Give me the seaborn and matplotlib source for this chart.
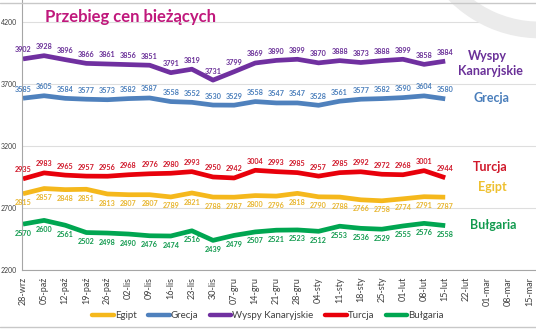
import matplotlib
matplotlib.use("Agg")
import matplotlib.pyplot as plt
import seaborn as sns
import pandas as pd
from matplotlib.lines import Line2D
from matplotlib.patches import Arc

dates = ["28-wrz", "05-paź", "12-paź", "19-paź", "26-paź", "02-lis", "09-lis", "16-lis",
         "23-lis", "30-lis", "07-gru", "14-gru", "21-gru", "28-gru", "04-sty", "11-sty",
         "18-sty", "25-sty", "01-lut", "08-lut", "15-lut", "22-lut", "01-mar", "08-mar", "15-mar"]

egipt = [2815, 2857, 2848, 2851, 2813, 2807, 2807, 2789, 2821, 2788, 2787, 2800, 2796,
         2818, 2790, 2788, 2766, 2758, 2774, 2791, 2787]
grecja = [3585, 3605, 3584, 3577, 3573, 3582, 3587, 3558, 3552, 3530, 3529, 3558, 3547,
          3547, 3528, 3561, 3577, 3582, 3590, 3604, 3580]
wyspy = [3902, 3928, 3896, 3866, 3861, 3856, 3851, 3791, 3819, 3731, 3799, 3869, 3890,
         3899, 3870, 3888, 3873, 3888, 3899, 3858, 3884]
turcja = [2935, 2983, 2965, 2957, 2956, 2968, 2976, 2980, 2993, 2950, 2942, 3004, 2993,
          2985, 2957, 2985, 2992, 2972, 2968, 3001, 2944]
bulgaria = [2570, 2600, 2561, 2502, 2498, 2490, 2476, 2474, 2516, 2439, 2479, 2507, 2521,
            2523, 2512, 2553, 2536, 2529, 2555, 2576, 2558]

series_names = ["Egipt", "Grecja", "Wyspy Kanaryjskie", "Turcja", "Bułgaria"]
series_values = [egipt, grecja, wyspy, turcja, bulgaria]
y_ticks = [2200, 2700, 3200, 3700, 4200]

colors = {"Egipt": "#F5B81C", "Grecja": "#4F81BD", "Wyspy Kanaryjskie": "#7030A0",
          "Turcja": "#E8000B", "Bułgaria": "#00A651"}
label_colors = {"Egipt": "#E8B630", "Grecja": "#4A7EBB", "Wyspy Kanaryjskie": "#6A3098",
                "Turcja": "#D0182A", "Bułgaria": "#119A4E"}
label_side = {"Egipt": -1, "Grecja": 1, "Wyspy Kanaryjskie": 1, "Turcja": 1, "Bułgaria": -1}

rows = []
for name, vals in zip(series_names, series_values):
    for i, v in enumerate(vals):
        rows.append({"idx": i, "value": v, "series": name})
df = pd.DataFrame(rows)

sns.set_theme(style="white")
plt.rcParams['font.family'] = ['Lato', 'DejaVu Sans']

W, H = 536, 332
fig = plt.figure(figsize=(W / 100, H / 100), dpi=100)
ax = fig.add_axes([22 / W, 62 / H, 514 / W, 270 / H])

sns.lineplot(data=df, x="idx", y="value", hue="series", hue_order=series_names,
             palette=colors, linewidth=3.4, ax=ax, legend=False, solid_capstyle="butt")

for name, vals in zip(series_names, series_values):
    s = label_side[name]
    for i, v in enumerate(vals):
        ax.annotate(str(v), (i, v), xytext=(0, 6.5 * s), textcoords="offset points",
                    ha="center", va="center", fontsize=5.2, fontweight="bold",
                    color=label_colors[name])

ax.set_xlim(-0.047, 24.3)
ax.set_ylim(2200, 4377)
ax.set_yticks(y_ticks)
ax.set_yticklabels([str(t) for t in y_ticks], fontsize=5, color="#404040")
ax.set_xticks(range(len(dates)))
ax.set_xticklabels(dates, rotation=90, fontsize=6.5, color="#404040")
ax.tick_params(axis="both", direction="out", length=3, width=0.7, color="#a0a0a0", pad=2)
ax.tick_params(axis="y", length=2.5, pad=1)
ax.yaxis.grid(True, color="#dedede", lw=0.8)
ax.xaxis.grid(False)
ax.set_xlabel("")
ax.set_ylabel("")
for sp in ["top", "right"]:
    ax.spines[sp].set_visible(False)
for sp in ["left", "bottom"]:
    ax.spines[sp].set_color("#a6a6a6")
    ax.spines[sp].set_linewidth(0.8)
ax.set_facecolor("none")

def fx(x):
    return x / W

def fy(y):
    return 1 - y / H

# right-side series names
side = [("Wyspy", 487, 56, "Wyspy Kanaryjskie"), ("Kanaryjskie", 490, 71, "Wyspy Kanaryjskie"),
        ("Grecja", 492, 98, "Grecja"), ("Turcja", 490, 167, "Turcja"),
        ("Egipt", 492, 187, "Egipt"), ("Bułgaria", 493, 225, "Bułgaria")]
for txt, x, y, nm in side:
    c = "#EEC030" if nm == "Egipt" else label_colors[nm]
    fig.text(fx(x), fy(y), txt, ha="center", va="center", fontsize=9, fontweight="bold",
             color=c)

fig.text(fx(45), fy(17), "Przebieg cen bieżących", ha="left", va="center", fontsize=12,
         fontweight="bold", color="#C0187C")

# decorative lines and arc
fig.add_artist(Line2D([0, 1], [fy(3), fy(3)], transform=fig.transFigure, color="#c8c8c8", lw=1))
fig.add_artist(Line2D([0, 1], [fy(327), fy(327)], transform=fig.transFigure, color="#c8c8c8", lw=1))
arc = Arc((fx(540), fy(-90)), 2 * 120 / W, 2 * 120 / H, theta1=180, theta2=300,
          transform=fig.transFigure, color="#ebebeb", lw=12)
fig.add_artist(arc)

handles = [Line2D([0], [0], color=colors[n], lw=3.2) for n in series_names]
fig.legend(handles, series_names, loc="center", bbox_to_anchor=(fx(268), fy(316)), ncol=5,
           frameon=False, fontsize=7, handlelength=2.2, handletextpad=0.1, columnspacing=1.2,
           labelcolor="#404040")

fig.savefig("out.png", dpi=100)
